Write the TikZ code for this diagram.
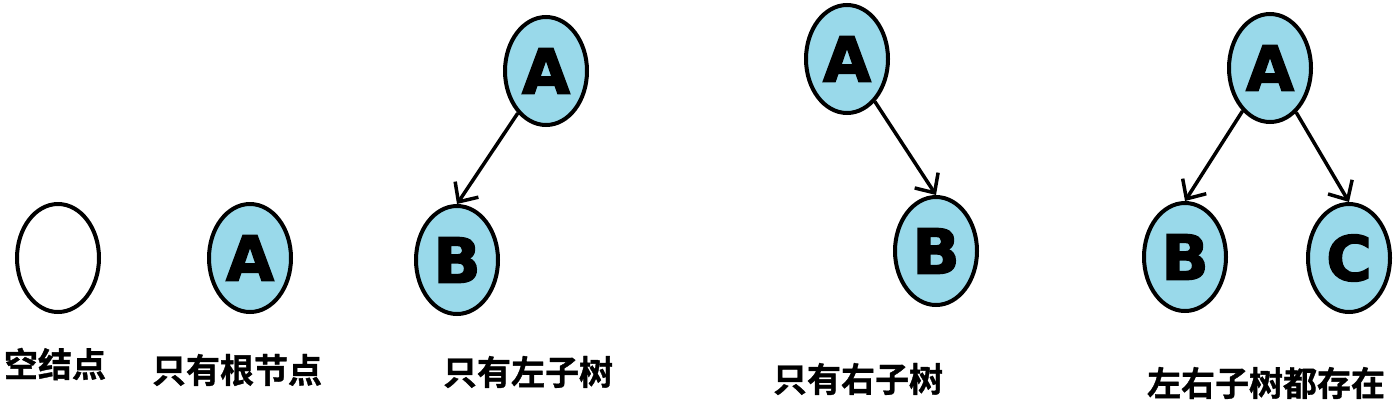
\documentclass[tikz,border=0pt]{standalone}
\usepackage{fontspec}
\usetikzlibrary{shapes.geometric,arrows.meta}
\newfontfamily\cjkbold[FakeBold=1]{Noto Sans CJK SC Bold}
\newfontfamily\heavy[FakeBold=2.5]{DejaVu Sans Bold}
\definecolor{nodeblue}{RGB}{153,217,234}
\tikzset{
  tnode/.style={ellipse, draw=black, line width=4pt, fill=nodeblue,
    minimum width=82pt, minimum height=108pt, inner sep=0pt,
    font=\heavy\fontsize{62}{62}\selectfont},
  enode/.style={tnode, fill=white},
  caption/.style={font=\cjkbold\fontsize{34}{34}\selectfont, inner sep=0pt},
  edge/.style={line width=3.5pt, -{Straight Barb[length=15pt,width=28pt,line width=3.5pt]}}
}
\begin{document}
\begin{tikzpicture}[x=1pt,y=-1pt]
\useasboundingbox (0,0) rectangle (1397,410);
% empty
\node[enode] (E) at (58,258) {};
\node[caption] (cE) at (55,364) {空结点};
% root only
\node[tnode] (R) at (250,258) {A};
\node[caption] (cR) at (237,370) {只有根节点};
% left subtree only
\node[tnode] (LA) at (546,71) {A};
\node[tnode] (LB) at (457,260) {B};
\draw[edge] (LA) -- (LB.north);
\node[caption] (cL) at (528,372) {只有左子树};
% right subtree only
\node[tnode] (RA) at (847,59) {A};
\node[tnode] (RB) at (936,251) {B};
\draw[edge] (RA) -- (RB.north);
\node[caption] (cRt) at (858,379) {只有右子树};
% both
\node[tnode] (BA) at (1270,68) {A};
\node[tnode] (BB) at (1185,257) {B};
\node[tnode] (BC) at (1349,258) {C};
\draw[edge] (BA) -- (BB.north);
\draw[edge] (BA) -- (BC.north);
\node[caption] (cB) at (1266,383) {左右子树都存在};
\end{tikzpicture}
\end{document}
